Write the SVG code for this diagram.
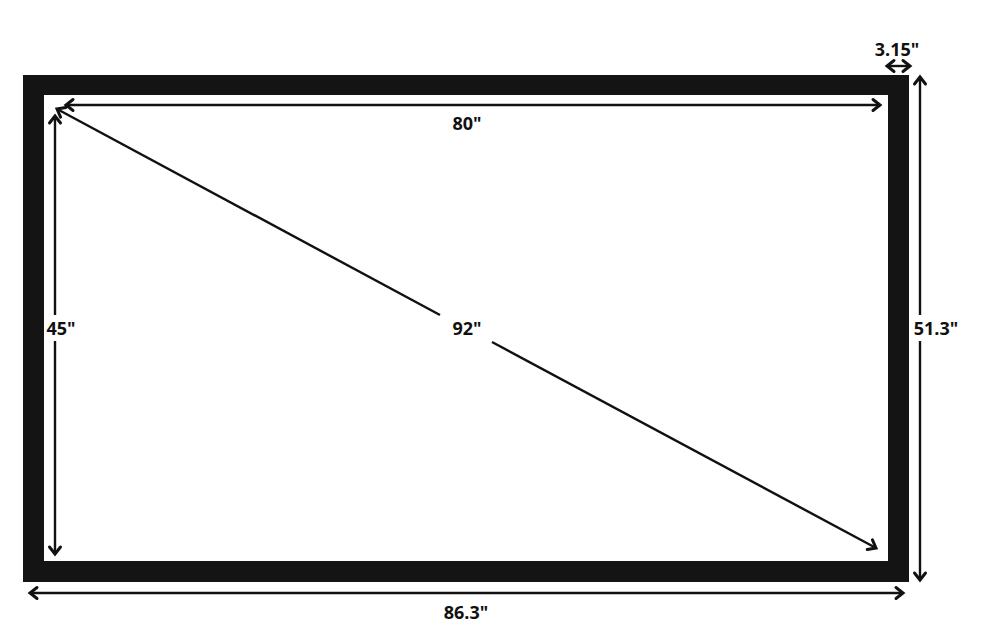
<svg xmlns="http://www.w3.org/2000/svg" width="1000" height="642" viewBox="0 0 1000 642">
<style>
.dim{stroke:#111;stroke-width:2.4;fill:none}
.lbl{font-family:"Open Sans","DejaVu Sans",sans-serif;font-weight:bold;font-size:18px;fill:#111}
</style>
<defs>
<marker id="ah" markerUnits="userSpaceOnUse" markerWidth="20" markerHeight="20" viewBox="-10 -10 20 20" refX="0" refY="0" orient="auto-start-reverse">
<path d="M-7,-5.5 L0,0 L-7,5.5" fill="none" stroke="#111" stroke-width="3" stroke-linecap="round" stroke-linejoin="miter"/>
</marker>
</defs>
<rect width="1000" height="642" fill="#fff"/>
<g id="frame">
<path d="M23,75 H909 V582 H23 Z M44,95 V561 H888 V95 Z" fill="#141414" fill-rule="evenodd"/>
</g>
<g id="connectors">
<line class="dim" x1="66" y1="105" x2="880" y2="105" marker-start="url(#ah)" marker-end="url(#ah)"/>
<line class="dim" x1="55" y1="116" x2="55" y2="315" marker-start="url(#ah)"/>
<line class="dim" x1="55" y1="341" x2="55" y2="554" marker-end="url(#ah)"/>
<line class="dim" x1="57" y1="109" x2="440" y2="315" marker-start="url(#ah)"/>
<line class="dim" x1="492" y1="342" x2="876" y2="548" marker-end="url(#ah)"/>
<line class="dim" x1="920" y1="77" x2="920" y2="315" marker-start="url(#ah)"/>
<line class="dim" x1="920" y1="341" x2="920" y2="580" marker-end="url(#ah)"/>
<line class="dim" x1="30" y1="593" x2="903" y2="593" marker-start="url(#ah)" marker-end="url(#ah)"/>
<line class="dim" x1="887" y1="66" x2="910" y2="66" marker-start="url(#ah)" marker-end="url(#ah)"/>
</g>
<g id="label-80"><text class="lbl" x="467" y="130" text-anchor="middle">80"</text></g>
<g id="label-45"><text class="lbl" x="61" y="335" text-anchor="middle">45"</text></g>
<g id="label-92"><text class="lbl" x="467" y="335" text-anchor="middle">92"</text></g>
<g id="label-51"><text class="lbl" x="936" y="335" text-anchor="middle">51.3"</text></g>
<g id="label-86"><text class="lbl" x="466" y="619" text-anchor="middle">86.3"</text></g>
<g id="label-315"><text class="lbl" x="897" y="56" text-anchor="middle">3.15"</text></g>
</svg>
